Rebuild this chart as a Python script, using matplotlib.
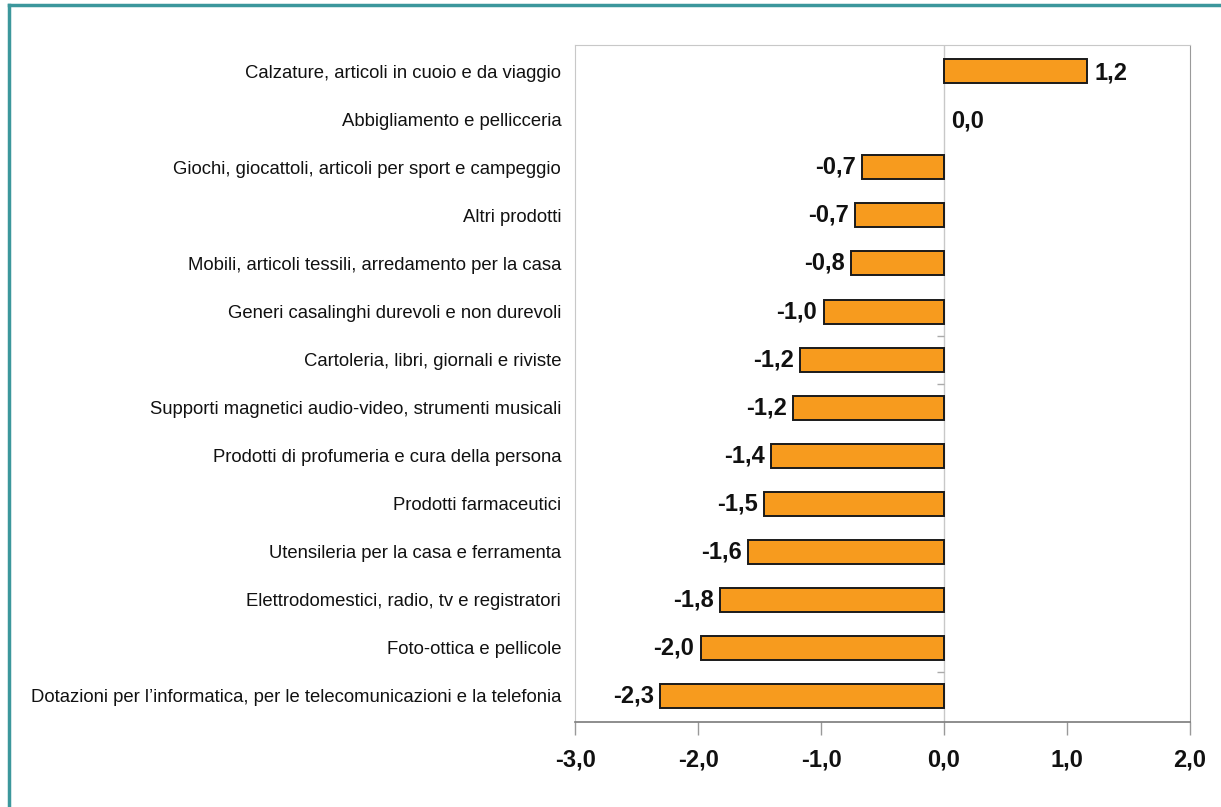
import matplotlib.pyplot as plt
from matplotlib.lines import Line2D

plt.rcParams['font.family'] = ['Liberation Sans', 'DejaVu Sans']

categories = [
    "Calzature, articoli in cuoio e da viaggio",
    "Abbigliamento e pellicceria",
    "Giochi, giocattoli, articoli per sport e campeggio",
    "Altri prodotti",
    "Mobili, articoli tessili, arredamento per la casa",
    "Generi casalinghi durevoli e non durevoli",
    "Cartoleria, libri, giornali e riviste",
    "Supporti magnetici audio-video, strumenti musicali",
    "Prodotti di profumeria e cura della persona",
    "Prodotti farmaceutici",
    "Utensileria per la casa e ferramenta",
    "Elettrodomestici, radio, tv e registratori",
    "Foto-ottica e pellicole",
    "Dotazioni per l\u2019informatica, per le telecomunicazioni e la telefonia",
]
values = [1.16, 0.0, -0.67, -0.72, -0.76, -0.98, -1.17, -1.23,
          -1.41, -1.46, -1.59, -1.82, -1.98, -2.31]
x_ticks = [-3.0, -2.0, -1.0, 0.0, 1.0, 2.0]

fig = plt.figure(figsize=(12.21, 8.07), dpi=100)
ax = fig.add_axes([0.471, 0.1053, 0.5036, 0.8389])

ypos = list(range(len(categories)))
edge_widths = [1.4 if v != 0 else 0 for v in values]
ax.barh(ypos, values, height=0.5, color='#F79B1E', edgecolor='#1a1a1a',
        linewidth=edge_widths, zorder=3)
ax.axvline(0, color='#c8c8c8', linewidth=1, zorder=1)

# stray category-boundary tick marks on the zero axis
ax.plot([0, 0, 0], [5.5, 6.5, 12.5], linestyle='none', marker=0,
        markersize=5, color='#aaaaaa', zorder=2)

for y, v in zip(ypos, values):
    label = f"{v:.1f}".replace('.', ',')
    if label == "-0,0":
        label = "0,0"
    if v < 0:
        ax.text(v - 0.05, y, label, ha='right', va='center',
                fontsize=17, fontweight='bold', color='#111111')
    else:
        ax.text(v + 0.06, y + 0.04, label, ha='left', va='center',
                fontsize=17, fontweight='bold', color='#111111')

ax.set_xlim(-3, 2)
ax.set_ylim(13.55, -0.55)
ax.set_yticks(ypos)
ax.set_yticklabels(categories, fontsize=13.3, color='#111111')
ax.tick_params(axis='y', length=0, pad=10)

ax.set_xticks(x_ticks)
ax.set_xticklabels([f"{t:.1f}".replace('.', ',') for t in x_ticks],
                   fontsize=17, fontweight='bold', color='#111111')
ax.tick_params(axis='x', direction='out', length=9, width=1,
               color='#999999', pad=10)

for side in ['top', 'left']:
    ax.spines[side].set_color('#c8c8c8')
ax.spines['right'].set_color('#9a9a9a')
ax.spines['bottom'].set_color('#7a7a7a')
ax.spines['bottom'].set_linewidth(1.2)

# teal frame around the figure
teal = '#3C979C'
fig.add_artist(Line2D([9 / 1221, 9 / 1221], [0, 1 - 5 / 807],
                      transform=fig.transFigure, color=teal, linewidth=2.5))
fig.add_artist(Line2D([9 / 1221, 1], [1 - 5 / 807, 1 - 5 / 807],
                      transform=fig.transFigure, color=teal, linewidth=2.5))

fig.savefig('out.png', dpi=100)
